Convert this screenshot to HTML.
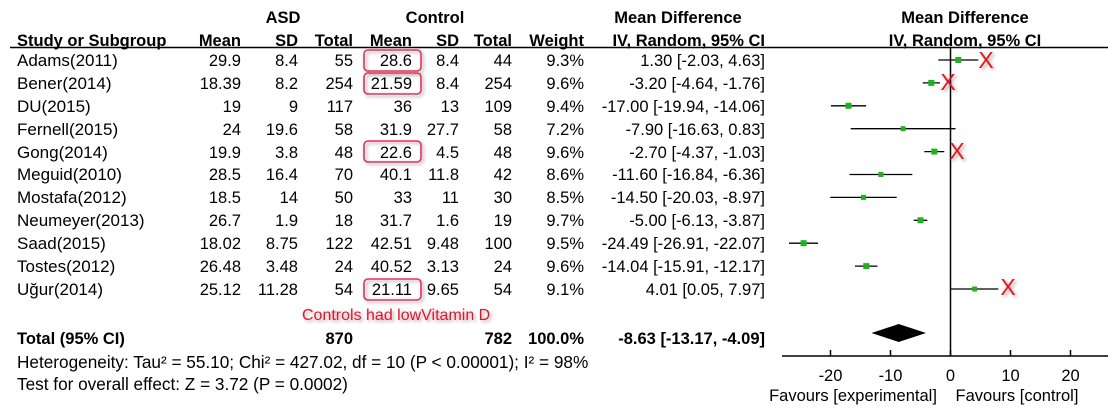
<!DOCTYPE html>
<html><head><meta charset="utf-8"><style>
html,body{margin:0;padding:0;background:#fff;}
svg{display:block;font-family:"Liberation Sans",Arial,sans-serif;}
</style></head><body>
<svg width="1108" height="417" viewBox="0 0 1108 417" xmlns="http://www.w3.org/2000/svg">
<defs>
<filter id="sh" x="-50%" y="-50%" width="200%" height="200%"><feDropShadow dx="2" dy="2" stdDeviation="1.5" flood-color="#000" flood-opacity="0.35"/></filter>
</defs>
<g font-size="16.5" font-weight="bold" fill="#000">
<text x="283" y="23" text-anchor="middle">ASD</text>
<text x="435" y="23" text-anchor="middle">Control</text>
<text x="678" y="23" text-anchor="middle">Mean Difference</text>
<text x="965" y="23" text-anchor="middle">Mean Difference</text>
<text x="17" y="46">Study or Subgroup</text>
<text x="241" y="46" text-anchor="end">Mean</text>
<text x="298" y="46" text-anchor="end">SD</text>
<text x="353" y="46" text-anchor="end">Total</text>
<text x="412" y="46" text-anchor="end">Mean</text>
<text x="459" y="46" text-anchor="end">SD</text>
<text x="512" y="46" text-anchor="end">Total</text>
<text x="584" y="46" text-anchor="end">Weight</text>
<text x="765" y="46" text-anchor="end">IV, Random, 95% CI</text>
<text x="965" y="46" text-anchor="middle">IV, Random, 95% CI</text>
</g>
<line x1="10" y1="47.5" x2="1108" y2="47.5" stroke="#000" stroke-width="1.5"/>
<g font-size="16.5" fill="#000">
<g><text x="17" y="66" font-size="17">Adams(2011)</text><text x="241" y="66" text-anchor="end">29.9</text><text x="298" y="66" text-anchor="end">8.4</text><text x="353" y="66" text-anchor="end">55</text><text x="412" y="66" text-anchor="end">28.6</text><text x="459" y="66" text-anchor="end">8.4</text><text x="512" y="66" text-anchor="end">44</text><text x="584" y="66" text-anchor="end">9.3%</text><text x="765" y="66" text-anchor="end">1.30 [-2.03, 4.63]</text></g>
<g><text x="17" y="89" font-size="17">Bener(2014)</text><text x="241" y="89" text-anchor="end">18.39</text><text x="298" y="89" text-anchor="end">8.2</text><text x="353" y="89" text-anchor="end">254</text><text x="412" y="89" text-anchor="end">21.59</text><text x="459" y="89" text-anchor="end">8.4</text><text x="512" y="89" text-anchor="end">254</text><text x="584" y="89" text-anchor="end">9.6%</text><text x="765" y="89" text-anchor="end">-3.20 [-4.64, -1.76]</text></g>
<g><text x="17" y="112" font-size="17">DU(2015)</text><text x="241" y="112" text-anchor="end">19</text><text x="298" y="112" text-anchor="end">9</text><text x="353" y="112" text-anchor="end">117</text><text x="412" y="112" text-anchor="end">36</text><text x="459" y="112" text-anchor="end">13</text><text x="512" y="112" text-anchor="end">109</text><text x="584" y="112" text-anchor="end">9.4%</text><text x="765" y="112" text-anchor="end">-17.00 [-19.94, -14.06]</text></g>
<g><text x="17" y="135" font-size="17">Fernell(2015)</text><text x="241" y="135" text-anchor="end">24</text><text x="298" y="135" text-anchor="end">19.6</text><text x="353" y="135" text-anchor="end">58</text><text x="412" y="135" text-anchor="end">31.9</text><text x="459" y="135" text-anchor="end">27.7</text><text x="512" y="135" text-anchor="end">58</text><text x="584" y="135" text-anchor="end">7.2%</text><text x="765" y="135" text-anchor="end">-7.90 [-16.63, 0.83]</text></g>
<g><text x="17" y="158" font-size="17">Gong(2014)</text><text x="241" y="158" text-anchor="end">19.9</text><text x="298" y="158" text-anchor="end">3.8</text><text x="353" y="158" text-anchor="end">48</text><text x="412" y="158" text-anchor="end">22.6</text><text x="459" y="158" text-anchor="end">4.5</text><text x="512" y="158" text-anchor="end">48</text><text x="584" y="158" text-anchor="end">9.6%</text><text x="765" y="158" text-anchor="end">-2.70 [-4.37, -1.03]</text></g>
<g><text x="17" y="180" font-size="17">Meguid(2010)</text><text x="241" y="180" text-anchor="end">28.5</text><text x="298" y="180" text-anchor="end">16.4</text><text x="353" y="180" text-anchor="end">70</text><text x="412" y="180" text-anchor="end">40.1</text><text x="459" y="180" text-anchor="end">11.8</text><text x="512" y="180" text-anchor="end">42</text><text x="584" y="180" text-anchor="end">8.6%</text><text x="765" y="180" text-anchor="end">-11.60 [-16.84, -6.36]</text></g>
<g><text x="17" y="203" font-size="17">Mostafa(2012)</text><text x="241" y="203" text-anchor="end">18.5</text><text x="298" y="203" text-anchor="end">14</text><text x="353" y="203" text-anchor="end">50</text><text x="412" y="203" text-anchor="end">33</text><text x="459" y="203" text-anchor="end">11</text><text x="512" y="203" text-anchor="end">30</text><text x="584" y="203" text-anchor="end">8.5%</text><text x="765" y="203" text-anchor="end">-14.50 [-20.03, -8.97]</text></g>
<g><text x="17" y="226" font-size="17">Neumeyer(2013)</text><text x="241" y="226" text-anchor="end">26.7</text><text x="298" y="226" text-anchor="end">1.9</text><text x="353" y="226" text-anchor="end">18</text><text x="412" y="226" text-anchor="end">31.7</text><text x="459" y="226" text-anchor="end">1.6</text><text x="512" y="226" text-anchor="end">19</text><text x="584" y="226" text-anchor="end">9.7%</text><text x="765" y="226" text-anchor="end">-5.00 [-6.13, -3.87]</text></g>
<g><text x="17" y="249" font-size="17">Saad(2015)</text><text x="241" y="249" text-anchor="end">18.02</text><text x="298" y="249" text-anchor="end">8.75</text><text x="353" y="249" text-anchor="end">122</text><text x="412" y="249" text-anchor="end">42.51</text><text x="459" y="249" text-anchor="end">9.48</text><text x="512" y="249" text-anchor="end">100</text><text x="584" y="249" text-anchor="end">9.5%</text><text x="765" y="249" text-anchor="end">-24.49 [-26.91, -22.07]</text></g>
<g><text x="17" y="272" font-size="17">Tostes(2012)</text><text x="241" y="272" text-anchor="end">26.48</text><text x="298" y="272" text-anchor="end">3.48</text><text x="353" y="272" text-anchor="end">24</text><text x="412" y="272" text-anchor="end">40.52</text><text x="459" y="272" text-anchor="end">3.13</text><text x="512" y="272" text-anchor="end">24</text><text x="584" y="272" text-anchor="end">9.6%</text><text x="765" y="272" text-anchor="end">-14.04 [-15.91, -12.17]</text></g>
<g><text x="17" y="295" font-size="17">Uğur(2014)</text><text x="241" y="295" text-anchor="end">25.12</text><text x="298" y="295" text-anchor="end">11.28</text><text x="353" y="295" text-anchor="end">54</text><text x="412" y="295" text-anchor="end">21.11</text><text x="459" y="295" text-anchor="end">9.65</text><text x="512" y="295" text-anchor="end">54</text><text x="584" y="295" text-anchor="end">9.1%</text><text x="765" y="295" text-anchor="end">4.01 [0.05, 7.97]</text></g>
</g>
<g stroke="#000" stroke-width="1.3">
<line x1="938.3" y1="60" x2="978.3" y2="60"/>
<line x1="922.7" y1="82.9" x2="940" y2="82.9"/>
<line x1="830.9" y1="105.8" x2="866.1" y2="105.8"/>
<line x1="850.7" y1="128.7" x2="955.5" y2="128.7"/>
<line x1="924.3" y1="151.6" x2="944.3" y2="151.6"/>
<line x1="849.5" y1="174.5" x2="912.3" y2="174.5"/>
<line x1="830.3" y1="197.4" x2="896.7" y2="197.4"/>
<line x1="913.7" y1="220.3" x2="927.3" y2="220.3"/>
<line x1="789" y1="243.2" x2="818.1" y2="243.2"/>
<line x1="855" y1="266.1" x2="877.5" y2="266.1"/>
<line x1="950.8" y1="289" x2="998.3" y2="289"/>
</g>
<g fill="#1db31d">
<rect x="955.3" y="57" width="6" height="6"/>
<rect x="928.3" y="79.9" width="6" height="6"/>
<rect x="845.5" y="102.8" width="6" height="6"/>
<rect x="900.6" y="126.2" width="5" height="5"/>
<rect x="931.3" y="148.6" width="6" height="6"/>
<rect x="878.4" y="172" width="5" height="5"/>
<rect x="861" y="194.9" width="5" height="5"/>
<rect x="917.5" y="217.3" width="6" height="6"/>
<rect x="800.6" y="240.2" width="6" height="6"/>
<rect x="863.3" y="263.1" width="6" height="6"/>
<rect x="972.1" y="286.5" width="5" height="5"/>
</g>
<g fill="none" stroke="#e0325a" stroke-width="1.6" filter="url(#sh)">
<rect x="364" y="50" width="57" height="21" rx="4"/>
<rect x="364" y="73" width="57" height="21" rx="4"/>
<rect x="364" y="141" width="57" height="21" rx="4"/>
<rect x="364" y="279" width="57" height="21" rx="4"/>
</g>
<text x="302" y="320" font-size="16" fill="#e0142d" filter="url(#sh)">Controls had lowVitamin D</text>
<g font-size="16.5" font-weight="bold">
<text x="17" y="344">Total (95% CI)</text>
<text x="353" y="344" text-anchor="end">870</text>
<text x="512" y="344" text-anchor="end">782</text>
<text x="584" y="344" text-anchor="end">100.0%</text>
<text x="765" y="344" text-anchor="end">-8.63 [-13.17, -4.09]</text>
</g>
<text x="17" y="368" font-size="17.2">Heterogeneity: Tau² = 55.10; Chi² = 427.02, df = 10 (P &lt; 0.00001); I² = 98%</text>
<text x="17" y="390" font-size="17.2">Test for overall effect: Z = 3.72 (P = 0.0002)</text>
<polygon points="871.5,333 898.7,324 926,333 898.7,342" fill="#000"/>
<line x1="950.5" y1="47" x2="950.5" y2="356" stroke="#000" stroke-width="1.5"/>
<line x1="782" y1="356" x2="1108" y2="356" stroke="#000" stroke-width="1.5"/>
<g stroke="#000" stroke-width="1.5">
<line x1="830.5" y1="350" x2="830.5" y2="356"/><line x1="890.5" y1="350" x2="890.5" y2="356"/>
<line x1="950.5" y1="350" x2="950.5" y2="356"/><line x1="1010.5" y1="350" x2="1010.5" y2="356"/>
<line x1="1070.5" y1="350" x2="1070.5" y2="356"/></g>
<g font-size="16.5" text-anchor="middle">
<text x="830.5" y="381">-20</text><text x="890.5" y="381">-10</text><text x="950.5" y="381">0</text>
<text x="1010.5" y="381">10</text><text x="1070.5" y="381">20</text>
<text x="853" y="401">Favours [experimental]</text><text x="1017" y="401">Favours [control]</text>
</g>
<g font-size="23" fill="#e8141e" filter="url(#sh)" text-anchor="middle">
<text x="986" y="68">X</text><text x="948" y="90">X</text><text x="957" y="159">X</text><text x="1008" y="295">X</text>
</g>
</svg>
</body></html>
